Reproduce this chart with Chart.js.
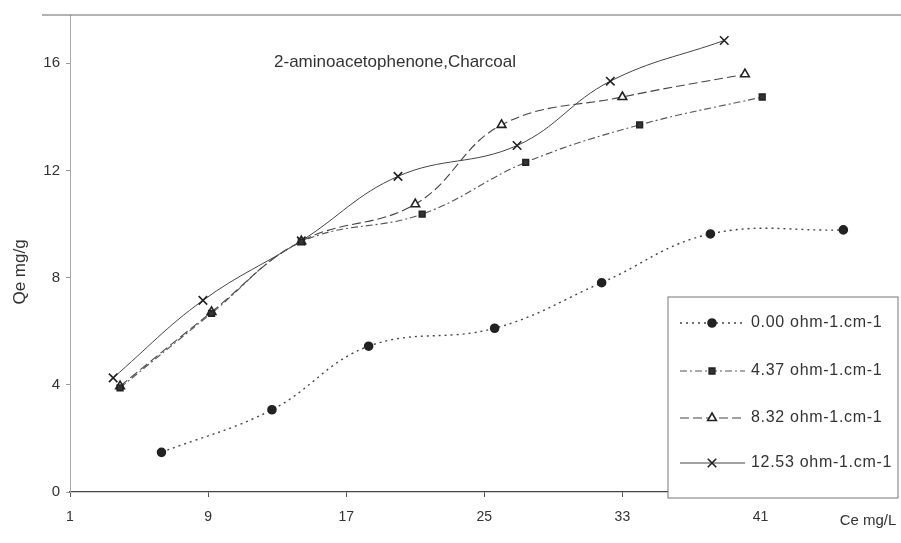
<!DOCTYPE html>
<html>
<head>
<meta charset="utf-8">
<script src="https://cdn.jsdelivr.net/npm/chart.js@4/dist/chart.umd.min.js"></script>
<style>
    html, body { margin: 0; padding: 0; background: #fff; }
    #wrap { width: 901px; height: 543px; }
</style>
</head>
<body>
<div id="wrap"><canvas id="isoChart"></canvas></div>
<script>
// Datos (Ce mg/L, Qe mg/g)
const seriesNames = ['0.00 ohm-1.cm-1', '4.37 ohm-1.cm-1', '8.32 ohm-1.cm-1', '12.53 ohm-1.cm-1'];

const ce000 = [6.3, 12.7, 18.3, 25.6, 31.8, 38.1, 45.8];
const qe000 = [1.48, 3.07, 5.44, 6.11, 7.81, 9.63, 9.78];

const ce437 = [3.9, 9.2, 14.4, 21.4, 27.4, 34.0, 41.1];
const qe437 = [3.89, 6.67, 9.33, 10.37, 12.3, 13.7, 14.74];

const ce832 = [3.9, 9.2, 14.4, 21.0, 26.0, 33.0, 40.1];
const qe832 = [3.95, 6.72, 9.36, 10.74, 13.7, 14.74, 15.59];

const ce1253 = [3.5, 8.7, 14.4, 20.0, 26.9, 32.3, 38.9];
const qe1253 = [4.26, 7.15, 9.37, 11.78, 12.93, 15.33, 16.85];

const xTicks = [1, 9, 17, 25, 33, 41];
const yTicks = [0, 4, 8, 12, 16];

const chartTitle = '2-aminoacetophenone,Charcoal';
const xTitle = 'Ce mg/L';
const yTitle = 'Qe mg/g';

const FONT = '"Liberation Sans", Arial, sans-serif';
const INK = '#333';

function toPoints(xs, ys) {
    return xs.map((x, i) => ({ x: x, y: ys[i] }));
}

// Estilo de cada serie
const styles = [
    { dash: [2, 4], point: 'circle', radius: 4, fill: '#222', color: '#444', width: 1.4 },
    { dash: [7, 3, 2, 3], point: 'rect', radius: 4, fill: '#333', color: '#555', width: 1.1 },
    { dash: [9, 4], point: 'triangle', radius: 5, fill: '#fff', color: '#444', width: 1.1 },
    { dash: [], point: 'crossRot', radius: 6, fill: '#333', color: '#444', width: 1 }
];

const allData = [
    toPoints(ce000, qe000),
    toPoints(ce437, qe437),
    toPoints(ce832, qe832),
    toPoints(ce1253, qe1253)
];

const datasets = allData.map((d, i) => ({
    label: seriesNames[i],
    data: d,
    borderColor: styles[i].color,
    borderWidth: styles[i].width,
    borderDash: styles[i].dash,
    tension: 0.4,
    fill: false,
    pointStyle: styles[i].point,
    pointRadius: styles[i].radius,
    pointBackgroundColor: styles[i].fill,
    pointBorderColor: '#222',
    pointBorderWidth: 1.6
}));

// Textos, marco y leyenda dibujados sobre el área del gráfico
const decoPlugin = {
    id: 'deco',
    afterDraw(chart) {
        const ctx = chart.ctx;
        const area = chart.chartArea;
        ctx.save();

        // línea superior del marco
        ctx.strokeStyle = '#666';
        ctx.lineWidth = 1.2;
        ctx.beginPath();
        ctx.moveTo(42, area.top);
        ctx.lineTo(901, area.top);
        ctx.stroke();

        // título dentro del área
        ctx.fillStyle = INK;
        ctx.font = '17px ' + FONT;
        ctx.textAlign = 'center';
        ctx.textBaseline = 'middle';
        ctx.fillText(chartTitle, 395, 62);

        // título del eje X
        ctx.font = '15px ' + FONT;
        ctx.fillText(xTitle, 868, 521);

        // título del eje Y
        ctx.save();
        ctx.translate(20, 272);
        ctx.rotate(-Math.PI / 2);
        ctx.font = '17px ' + FONT;
        ctx.fillText(yTitle, 0, 0);
        ctx.restore();

        // leyenda
        const bx = 668, by = 297, bw = 230, bh = 201;
        ctx.fillStyle = '#fff';
        ctx.fillRect(bx, by, bw, bh);
        ctx.strokeStyle = '#777';
        ctx.lineWidth = 1;
        ctx.strokeRect(bx, by, bw, bh);

        const rows = [323, 371, 418, 463];
        rows.forEach((ry, i) => {
            const st = styles[i];
            ctx.strokeStyle = st.color;
            ctx.lineWidth = st.width;
            ctx.setLineDash(st.dash);
            ctx.beginPath();
            ctx.moveTo(680, ry);
            ctx.lineTo(745, ry);
            ctx.stroke();
            ctx.setLineDash([]);
            ctx.fillStyle = st.fill;
            ctx.strokeStyle = '#222';
            ctx.lineWidth = 1.6;
            Chart.helpers.drawPoint(ctx, {
                pointStyle: st.point,
                radius: st.radius,
                rotation: 0,
                borderWidth: 1.6
            }, 712, ry);
            ctx.fillStyle = INK;
            ctx.font = '16px ' + FONT;
            ctx.letterSpacing = '0.7px';
            ctx.textAlign = 'left';
            ctx.fillText(seriesNames[i], 751, ry);
            ctx.letterSpacing = '0px';
        });

        ctx.restore();
    }
};

const ctx = document.getElementById('isoChart').getContext('2d');

new Chart(ctx, {
    type: 'line',
    data: { datasets: datasets },
    options: {
        responsive: true,
        maintainAspectRatio: false,
        animation: false,
        layout: {
            padding: { top: 12, right: 4, left: 0, bottom: 0 }
        },
        plugins: {
            legend: { display: false },
            tooltip: { enabled: false }
        },
        scales: {
            x: {
                type: 'linear',
                min: 1,
                max: 48.7,
                afterBuildTicks: axis => {
                    axis.ticks = xTicks.map(v => ({ value: v }));
                },
                afterFit: scale => { scale.height = 51; },
                grid: {
                    drawOnChartArea: false,
                    drawTicks: true,
                    tickLength: 5,
                    color: '#555'
                },
                border: { color: '#444', width: 1.3 },
                ticks: {
                    color: INK,
                    padding: 12,
                    maxRotation: 0,
                    font: { family: FONT, size: 14 }
                }
            },
            y: {
                type: 'linear',
                min: 0,
                max: 17.8,
                afterBuildTicks: axis => {
                    axis.ticks = yTicks.map(v => ({ value: v }));
                },
                afterFit: scale => { scale.width = 70; },
                grid: {
                    drawOnChartArea: false,
                    drawTicks: true,
                    tickLength: 4,
                    color: '#999'
                },
                border: { color: '#aaa', width: 1 },
                ticks: {
                    color: INK,
                    padding: 6,
                    font: { family: FONT, size: 15 }
                }
            }
        }
    },
    plugins: [decoPlugin]
});
</script>
</body>
</html>
